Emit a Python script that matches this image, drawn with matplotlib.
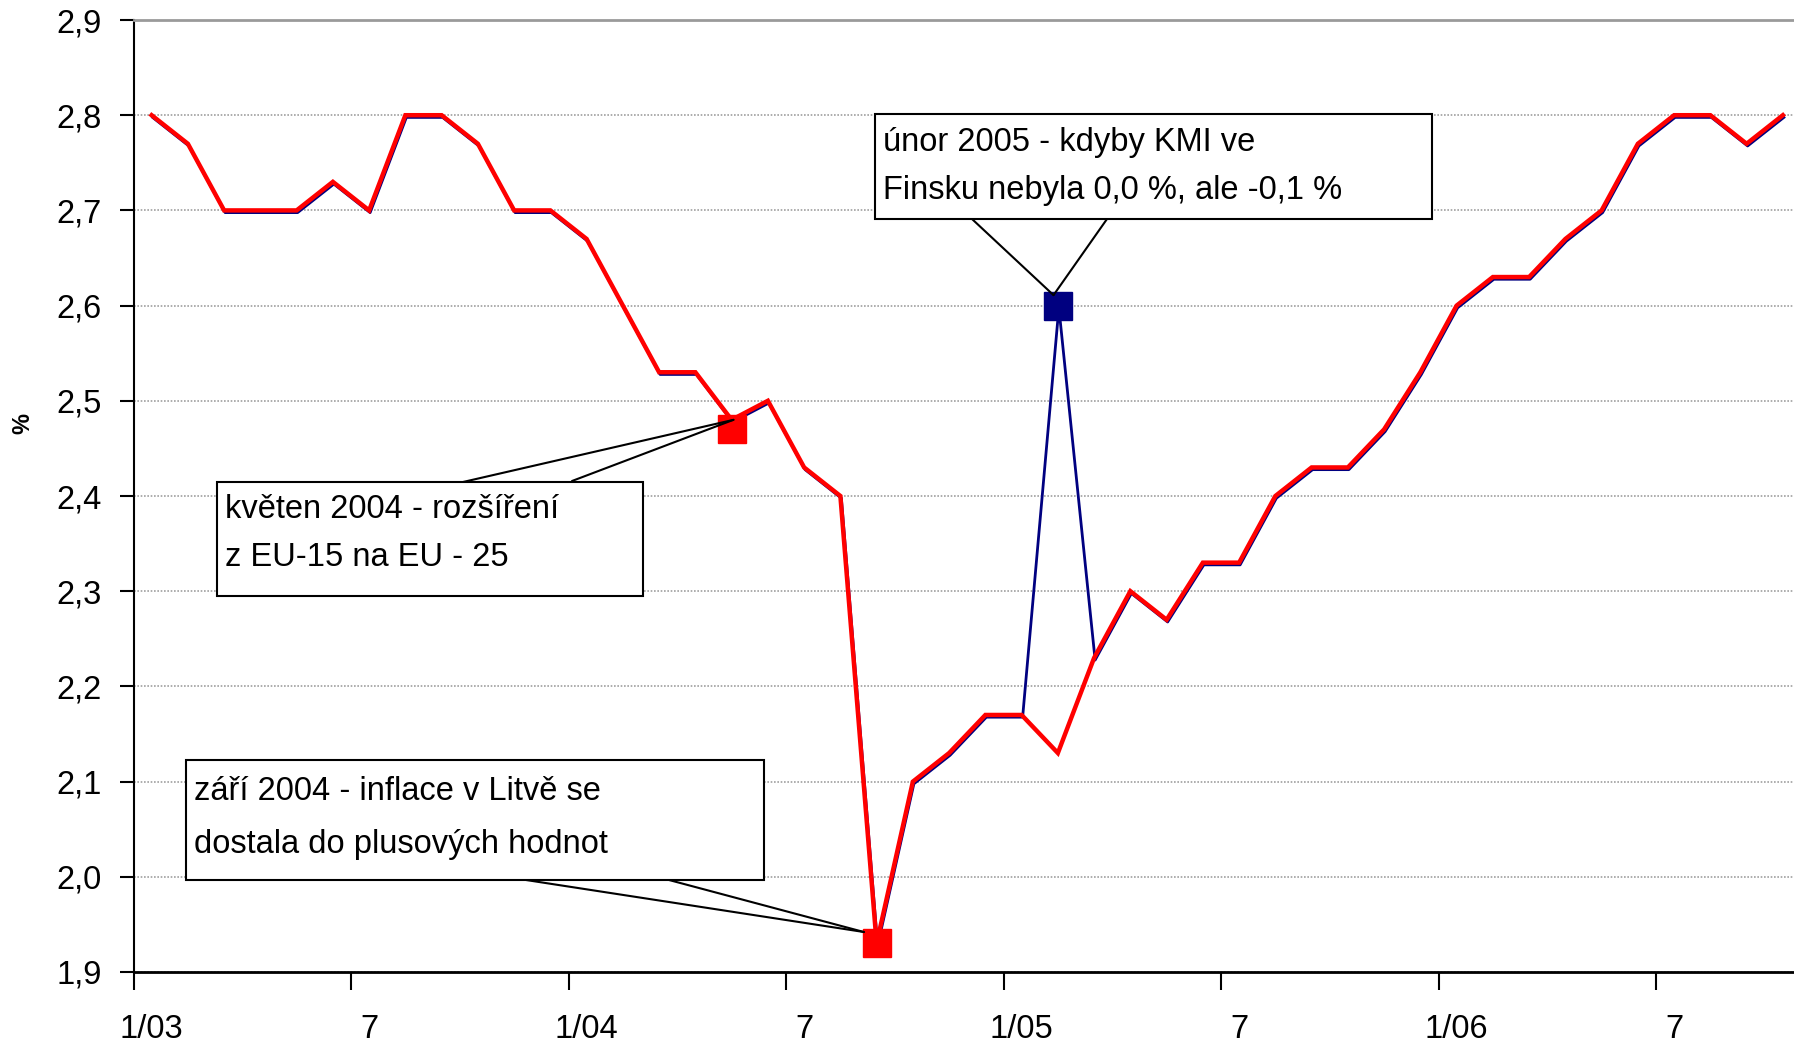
import numpy as np
import matplotlib
matplotlib.use("Agg")
import matplotlib.pyplot as plt
from matplotlib.patches import Rectangle, ConnectionPatch
from matplotlib.ticker import FixedLocator, FuncFormatter
import matplotlib.transforms as mtransforms

plt.rcParams['font.family'] = ['Liberation Sans', 'DejaVu Sans']

# mesicni hodnoty 1/03 - 10/06
hicp_kmi = [2.80, 2.77, 2.70, 2.70, 2.70, 2.73, 2.70, 2.80, 2.80, 2.77,
            2.70, 2.70, 2.67, 2.60, 2.53, 2.53, 2.48, 2.50, 2.43, 2.40,
            1.93, 2.10, 2.13, 2.17, 2.17, 2.60, 2.23, 2.30, 2.27, 2.33,
            2.33, 2.40, 2.43, 2.43, 2.47, 2.53, 2.60, 2.63, 2.63, 2.67,
            2.70, 2.77, 2.80, 2.80, 2.77, 2.80]
hicp_skut = [2.80, 2.77, 2.70, 2.70, 2.70, 2.73, 2.70, 2.80, 2.80, 2.77,
             2.70, 2.70, 2.67, 2.60, 2.53, 2.53, 2.48, 2.50, 2.43, 2.40,
             1.93, 2.10, 2.13, 2.17, 2.17, 2.13, 2.23, 2.30, 2.27, 2.33,
             2.33, 2.40, 2.43, 2.43, 2.47, 2.53, 2.60, 2.63, 2.63, 2.67,
             2.70, 2.77, 2.80, 2.80, 2.77, 2.80]

# zvyraznene body
red_idx = [16, 20]
red_val = [2.47, 1.93]
blue_idx = [25]
blue_val = [2.60]

tick_labels = ['1/03', '7', '1/04', '7', '1/05', '7', '1/06', '7']
yticks = [1.9, 2.0, 2.1, 2.2, 2.3, 2.4, 2.5, 2.6, 2.7, 2.8, 2.9]

W, H = 1794, 1043


def px(x, y):
    return (x / W, 1 - y / H)


fig = plt.figure(figsize=(W / 100, H / 100), dpi=100)
ax = fig.add_axes([133.5 / W, 1 - 972 / H, 1667.5 / W, (972 - 20) / H])

x = np.arange(len(hicp_kmi))

ax.plot(x, hicp_skut, color='#ff0000', lw=3.2, zorder=4, solid_joinstyle='miter')
off = mtransforms.offset_copy(ax.transData, fig=fig, x=1.0, y=-2.2, units='dots')
ax.plot(x, hicp_kmi, color='#000080', lw=2.0, zorder=3, transform=off)

ax.plot(red_idx, red_val, ls='none', marker='s', ms=20, color='#ff0000',
        mec='#ff0000', zorder=6)
ax.plot(blue_idx, blue_val, ls='none', marker='s', ms=20, color='#000080',
        mec='#000080', zorder=6)

ax.set_xlim(-0.5, len(x) - 0.5)
ax.set_ylim(1.9, 2.9)

ax.xaxis.set_major_locator(FixedLocator(np.arange(-0.5, len(x), 6)))
ax.xaxis.set_minor_locator(FixedLocator(np.arange(0, len(x), 6)))
ax.set_xticklabels([''] * len(ax.get_xticks()))
ax.xaxis.set_minor_formatter(FuncFormatter(lambda v, p: tick_labels[int(round(v)) // 6]
                                           if int(round(v)) // 6 < len(tick_labels) else ''))
ax.tick_params(axis='x', which='major', length=13, width=1.5, direction='out')
ax.tick_params(axis='x', which='minor', length=0, pad=30, labelsize=23.5)

ax.set_yticks(yticks)
ax.set_yticklabels([('%.1f' % v).replace('.', ',') for v in yticks])
ax.tick_params(axis='y', length=10, width=1.5, pad=13, labelsize=23.5)

ax.grid(axis='y', color='#a0a0a0', ls=(0, (1, 1)), lw=1.2)
ax.set_axisbelow(True)

ax.spines['right'].set_visible(False)
ax.spines['top'].set_color('#9a9a9a')
ax.spines['top'].set_linewidth(2)
ax.spines['left'].set_linewidth(1.5)
ax.spines['bottom'].set_linewidth(2)

fig.text(*px(23, 423), '%', rotation=90, fontsize=17, fontweight='bold',
         ha='center', va='center')

# popisky
callouts = [
    # box (x0, y0, x1, y1), radky textu, jejich y, body na okraji boxu, cil
    ((217, 482, 643, 596), ['květen 2004 - rozšíření', 'z EU-15 na EU - 25'],
     [509, 558], [(463, 482), (572, 481)], (16.05, 2.48)),
    ((186, 760, 764, 880), ['září 2004 - inflace v Litvě se', 'dostala do plusových hodnot'],
     [792, 845], [(526, 880), (669, 880)], (19.65, 1.942)),
    ((875, 114, 1432, 219), ['únor 2005 - kdyby KMI ve', 'Finsku nebyla 0,0 %, ale -0,1 %'],
     [143, 191], [(972, 219), (1107, 219)], (24.88, 2.611)),
]

for box, lines, ys, bases, target in callouts:
    x0, y0, x1, y1 = box
    fig.add_artist(Rectangle(px(x0, y1), (x1 - x0) / W, (y1 - y0) / H,
                             transform=fig.transFigure, facecolor='white',
                             edgecolor='black', lw=1.5, zorder=8))
    for t, yy in zip(lines, ys):
        fig.text(*px(x0 + 8, yy), t, fontsize=23.5, ha='left', va='center', zorder=9)
    for b in bases:
        cp = ConnectionPatch(xyA=px(*b), coordsA=fig.transFigure,
                             xyB=target, coordsB=ax.transData,
                             color='black', lw=1.5, zorder=7)
        fig.add_artist(cp)

fig.savefig('out.png', dpi=100)
